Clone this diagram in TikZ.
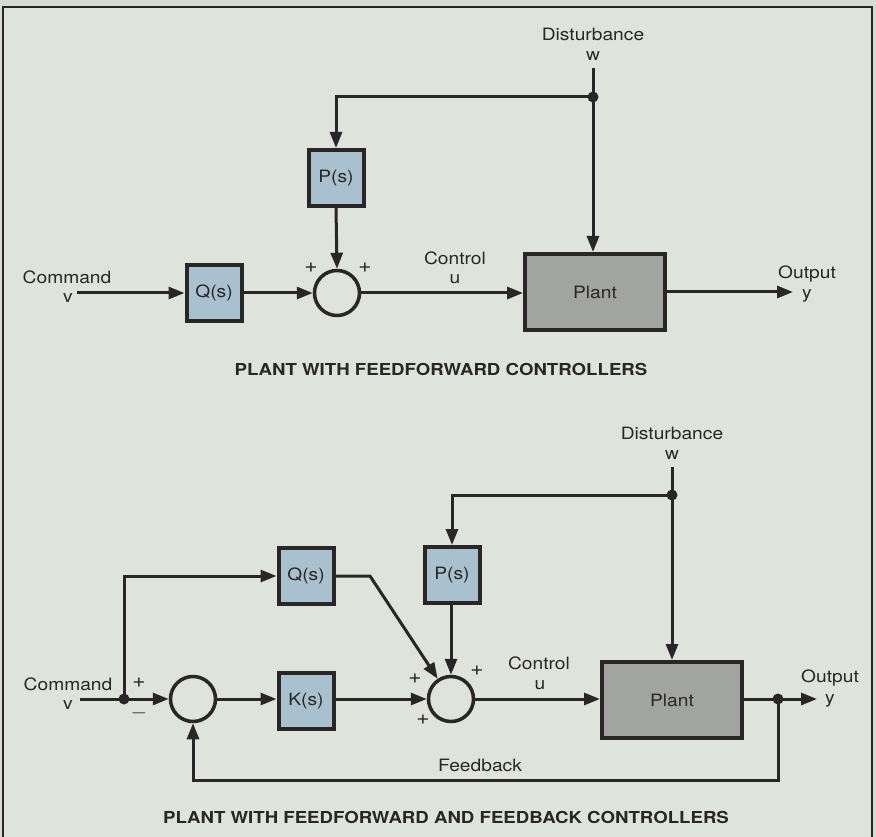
\documentclass[tikz,border=0pt]{standalone}
\usepackage{fontspec}
\setmainfont{TeX Gyre Heros}[FakeStretch=1.13]
\usetikzlibrary{arrows.meta}
\definecolor{bg}{HTML}{DEE3DB}
\definecolor{bgout}{HTML}{D6DBD3}
\definecolor{blu}{HTML}{A9C0CE}
\definecolor{plantgray}{HTML}{A2A4A1}
\definecolor{ink}{HTML}{2A2625}
\begin{document}
\begin{tikzpicture}[x=1pt,y=-1pt,
 blk/.style={draw=ink,line width=4pt,fill=blu,minimum width=55pt,minimum height=56pt,inner sep=0pt,text=ink,font=\fontsize{17}{20}\selectfont},
 plantbox/.style={draw=ink,line width=4pt,fill=plantgray,minimum width=140pt,minimum height=76pt,inner sep=0pt,text=ink,font=\fontsize{17}{20}\selectfont},
 sumnode/.style={circle,draw=ink,line width=3.5pt,minimum size=45pt,inner sep=0pt},
 lbl/.style={font=\fontsize{17}{20}\selectfont,inner sep=0pt,text=ink},
 sgn/.style={font=\fontsize{20}{22}\selectfont,inner sep=0pt,text=ink},
 ttl/.style={font=\bfseries\fontsize{16.5}{20}\selectfont,inner sep=0pt,text=ink},
 sig/.style={draw=ink,line width=3pt,-{Triangle[length=16pt,width=12pt]}},
 wire/.style={draw=ink,line width=3pt},
 jdot/.style={circle,fill=ink,minimum size=11pt,inner sep=0pt},
]
\useasboundingbox (0,0) rectangle (876,837);
\fill[bgout] (0,0) rectangle (876,837);
\fill[bg] (3,7) rectangle (872,837);
\draw[ink,line width=2.5pt] (3,837) -- (3,7) -- (872,7) -- (872,837);

% ---------- top diagram ----------
\node[lbl] (dist1) at (593,34) {Disturbance};
\node[lbl] (w1) at (593,56) {w};
\coordinate (w1s) at (593,68);
\node[jdot] (j1) at (593,97) {};
\node[blk] (P1) at (336,178) {P(s)};
\node[blk] (Q1) at (214,293) {Q(s)};
\node[sumnode] (S1) at (337,293) {};
\node[plantbox] (Pl1) at (595,292) {Plant};
\node[lbl] (cmd1) at (67,277) {Command};
\node[lbl] (v1) at (68,298) {v};
\coordinate (in1) at (77,293);
\node[lbl] (ctl1) at (455,258) {Control};
\node[lbl] (u1) at (455,279) {u};
\coordinate (out1) at (793,292);
\node[lbl] (outl1) at (807,274) {Output};
\node[lbl] (y1) at (807,296) {y};
\node[sgn] (p1a) at (311,268) {+};
\node[sgn] (p1b) at (365,268) {+};

\draw[sig] (in1) -- (Q1.west);
\draw[sig] (Q1.east) -- (S1.west);
\draw[sig] (P1.south) -- (S1.north);
\draw[sig] (S1.east) -- (S1.east -| Pl1.west);
\draw[wire] (w1s) -- (j1.center);
\draw[sig] (j1.center) -- (j1.center |- Pl1.north);
\draw[sig] (j1.center) -| (P1.north);
\draw[sig] (Pl1.east |- out1) -- (out1);

\node[ttl] (t1) at (441,369) {PLANT WITH FEEDFORWARD CONTROLLERS};

% ---------- bottom diagram ----------
\node[lbl] (dist2) at (672,433) {Disturbance};
\node[lbl] (w2) at (672,455) {w};
\coordinate (w2s) at (672,467);
\node[jdot] (j2) at (672,495) {};
\node[blk] (P2) at (452,575) {P(s)};
\node[blk] (Q2) at (306,576) {Q(s)};
\node[blk] (K2) at (306,701) {K(s)};
\node[sumnode] (S2a) at (193,699) {};
\node[sumnode] (S2b) at (451,699) {};
\node[plantbox] (Pl2) at (672,700) {Plant};
\node[lbl] (cmd2) at (68,684) {Command};
\node[lbl] (v2) at (68,705) {v};
\coordinate (in2) at (80,699);
\node[jdot] (j3) at (124,699) {};
\coordinate (qb) at (370,576);
\node[lbl] (ctl2) at (539,663) {Control};
\node[lbl] (u2) at (540,685) {u};
\node[jdot] (j4) at (778,699) {};
\coordinate (out2) at (817,699);
\node[lbl] (outl2) at (830,678) {Output};
\node[lbl] (y2) at (830,701) {y};
\coordinate (fb) at (778,780);
\node[lbl] (fbl) at (480,765) {Feedback};
\node[sgn] (p2a) at (139,683) {+};
\node[sgn] (m2a) at (139,713) {$-$};
\node[sgn] (p2b) at (415,679) {+};
\node[sgn] (p2c) at (477,671) {+};
\node[sgn] (p2d) at (423,720) {+};

\draw[wire] (in2) -- (j3.center);
\draw[sig] (j3.center) -- (S2a.west);
\draw[sig] (j3.center) |- (Q2.west);
\draw[sig] (S2a.east) -- (K2.west |- S2a.east);
\draw[sig] (K2.east |- S2b.west) -- (S2b.west);
\draw[sig] (Q2.east) -- (qb) -- (S2b);
\draw[sig] (P2.south -| S2b.north) -- (S2b.north);
\draw[sig] (S2b.east) -- (S2b.east -| Pl2.west);
\draw[wire] (w2s) -- (j2.center);
\draw[sig] (j2.center) -- (j2.center |- Pl2.north);
\draw[sig] (j2.center) -| (P2.north);
\draw[sig] (Pl2.east |- out2) -- (out2);
\draw[sig] (j4.center) -- (fb) -| (S2a.south);

\node[ttl] (t2) at (446,817) {PLANT WITH FEEDFORWARD AND FEEDBACK CONTROLLERS};
\end{tikzpicture}
\end{document}
